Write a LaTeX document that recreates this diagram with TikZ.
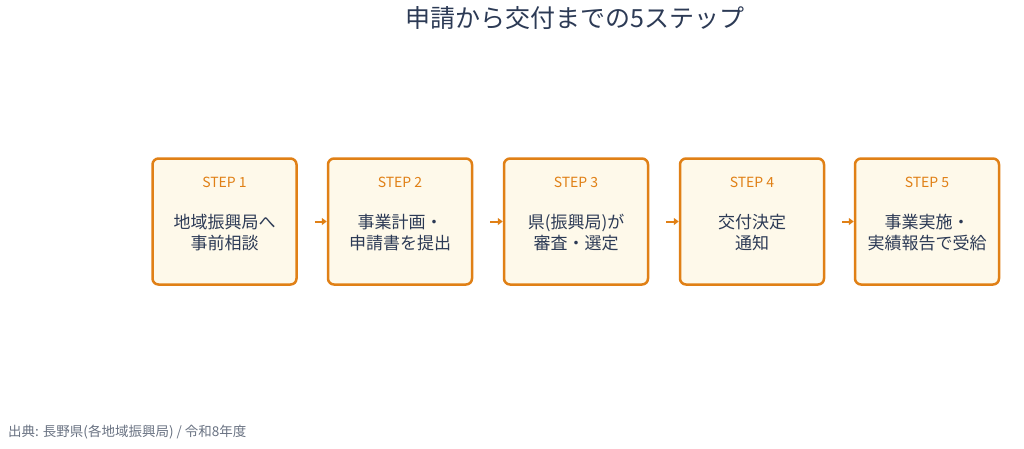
\documentclass[tikz,border=0pt]{standalone}
\usepackage{fontspec}
\setmainfont{Noto Sans CJK JP}
\usetikzlibrary{arrows.meta}
\definecolor{orng}{RGB}{224,128,22}
\definecolor{boxfill}{RGB}{254,249,234}
\definecolor{navy}{RGB}{44,58,85}
\definecolor{footgray}{RGB}{105,114,130}
\tikzset{
  stepbox/.style={draw=orng, line width=2.5pt, fill=boxfill, rounded corners=6pt,
    minimum width=144pt, minimum height=126pt, inner sep=0pt},
  steplabel/.style={text=orng, font=\fontsize{14}{16}\selectfont},
  steptext/.style={text=navy, font=\fontsize{17}{21}\selectfont, align=center},
  conn/.style={draw=orng, line width=2pt, -{Triangle[length=5pt,width=7pt]}}
}
\begin{document}
\begin{tikzpicture}[x=1pt,y=-1pt]
\useasboundingbox (0,0) rectangle (1024,448);
\node[text=navy, font=\fontsize{25}{28}\selectfont] (title) at (575,18) {申請から交付までの5ステップ};
\foreach \i/\cx/\txt in {1/224.5/{地域振興局へ\\事前相談},2/400/{事業計画・\\申請書を提出},3/576/{県(振興局)が\\審査・選定},4/752/{交付決定\\通知},5/927/{事業実施・\\実績報告で受給}}{
  \node[stepbox] (b\i) at (\cx,221.5) {};
  \node[steplabel] (s\i) at (\cx,182) {STEP \i};
  \node[steptext] (t\i) at (\cx,232.5) {\txt};
}
\foreach \a/\b in {1/2,2/3,3/4,4/5}{
  \coordinate (c\a) at ([xshift=17pt]b\a.east);
  \draw[conn] (c\a) -- (b\b.west);
}
\node[anchor=west, inner sep=0pt, text=footgray, font=\fontsize{13.5}{15}\selectfont] (foot) at (8,432) {出典: 長野県(各地域振興局) / 令和8年度};
\end{tikzpicture}
\end{document}
